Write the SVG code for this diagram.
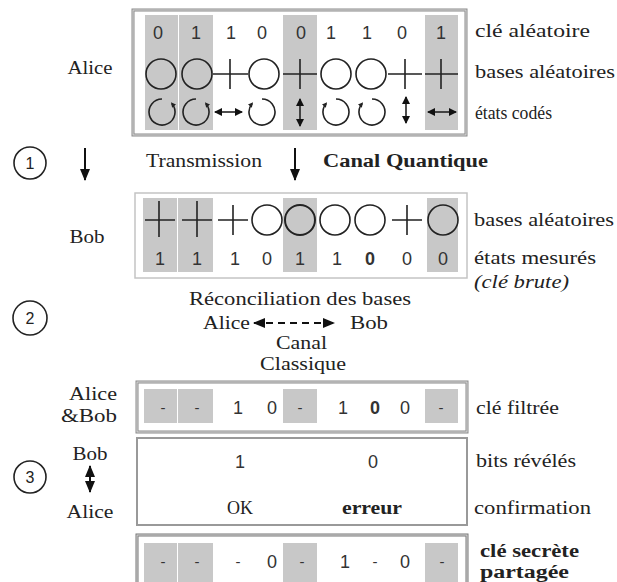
<svg xmlns="http://www.w3.org/2000/svg" width="617" height="582" viewBox="0 0 617 582">
  <style>
    .serif { font-family: "Liberation Serif", "Times New Roman", serif; font-size: 18px; fill: #222; }
    .bold { font-weight: bold; }
    .ital { font-style: italic; }
    .mid { text-anchor: middle; }
    .end { text-anchor: end; }
    .digit { font-family: "Liberation Sans", Arial, sans-serif; font-size: 18px; fill: #333; text-anchor: middle; }
    .dash { font-family: "Liberation Sans", Arial, sans-serif; font-size: 15px; fill: #333; text-anchor: middle; }
    .cell { fill: #c8c8c8; }
    .sym { fill: none; stroke: #222; stroke-width: 1.6; }
    .frame { fill: none; stroke: #8a8a8a; stroke-width: 3; }
    .frame-in { fill: none; stroke: #dcdcdc; stroke-width: 1; }
    .thin { fill: #fff; stroke: #c4c4c4; stroke-width: 1.5; }
    .num { fill: none; stroke: #222; stroke-width: 1.6; }
    .numtxt { font-family: "Liberation Sans", Arial, sans-serif; font-size: 16px; fill: #222; text-anchor: middle; }
    .arrow { stroke: #111; stroke-width: 2; fill: none; }
  </style>
  <defs>
    <marker id="head" viewBox="0 0 12 10" refX="11" refY="5" markerWidth="12" markerHeight="10" markerUnits="userSpaceOnUse" orient="auto-start-reverse">
      <path d="M0,0 L12,5 L0,10 z" fill="#111"/>
    </marker>
    <marker id="small" viewBox="0 0 8 8" refX="7" refY="4" markerWidth="8" markerHeight="8" markerUnits="userSpaceOnUse" orient="auto-start-reverse">
      <path d="M0,0 L8,4 L0,8 z" fill="#111"/>
    </marker>
    <marker id="tip" viewBox="0 0 6 6" refX="4" refY="3" markerWidth="5" markerHeight="5" markerUnits="userSpaceOnUse" orient="auto">
      <path d="M0,0 L6,3 L0,6 z" fill="#222"/>
    </marker>
  </defs>

  <rect width="617" height="582" fill="#fff"/>

  <!-- Alice: random key, random bases, encoded states -->
  <g id="alice-box">
    <rect x="133" y="10" width="333" height="125" fill="#fff"/>
    <rect class="cell" x="145" y="15" width="33" height="115"/>
    <rect class="cell" x="179" y="15" width="34" height="115"/>
    <rect class="cell" x="283" y="15" width="34" height="115"/>
    <rect class="cell" x="425" y="15" width="33" height="115"/>
    <rect class="frame" x="133" y="10" width="333" height="125"/>
    <rect class="frame-in" x="133" y="10" width="333" height="125"/>
    <g>
      <text class="digit" x="158" y="39">0</text>
      <text class="digit" x="196" y="39">1</text>
      <text class="digit" x="231" y="39">1</text>
      <text class="digit" x="262" y="39">0</text>
      <text class="digit" x="301" y="39">0</text>
      <text class="digit" x="331" y="39">1</text>
      <text class="digit" x="367" y="39">1</text>
      <text class="digit" x="402" y="39">0</text>
      <text class="digit" x="441" y="39">1</text>
    </g>
    <g class="sym">
      <circle cx="161" cy="74" r="15"/>
      <circle cx="197" cy="74" r="15"/>
      <path d="M213,74 H248 M230,59 V89"/>
      <circle cx="264" cy="74" r="15"/>
      <path d="M283,74 H317 M300,59 V89"/>
      <circle cx="336" cy="74" r="15"/>
      <circle cx="371" cy="74" r="15"/>
      <path d="M388,74 H422 M405,59 V89"/>
      <path d="M425,74 H458 M441,59 V89"/>
    </g>
    <g class="sym" stroke-width="1.8">
      <path d="M162,99 A13,13 0 1,0 171.96,103.64" marker-end="url(#tip)"/>
      <path d="M196,99 A13,13 0 1,0 205.96,103.64" marker-end="url(#tip)"/>
      <path d="M262,99 A13,13 0 1,1 252.04,103.64" marker-end="url(#tip)"/>
      <path d="M336,99 A13,13 0 1,1 326.04,103.64" marker-end="url(#tip)"/>
      <path d="M372,99 A13,13 0 1,1 362.04,103.64" marker-end="url(#tip)"/>
      <path d="M215,112 H242" marker-start="url(#small)" marker-end="url(#small)"/>
      <path d="M300,99 V126" marker-start="url(#small)" marker-end="url(#small)"/>
      <path d="M406,97 V123" marker-start="url(#small)" marker-end="url(#small)"/>
      <path d="M428,112 H456" marker-start="url(#small)" marker-end="url(#small)"/>
    </g>
  </g>

  <!-- Bob: random bases, measured states -->
  <g id="bob-box">
    <rect class="thin" x="135" y="193" width="332" height="85"/>
    <rect class="cell" x="143" y="198" width="34" height="74"/>
    <rect class="cell" x="178" y="198" width="35" height="74"/>
    <rect class="cell" x="283" y="198" width="34" height="74"/>
    <rect class="cell" x="427" y="198" width="31" height="74"/>
    <g class="sym">
      <path d="M145,220 H175 M159,201 V237"/>
      <path d="M182,220 H212 M197,201 V237"/>
      <path d="M218,220 H248 M233,205 V235"/>
      <circle cx="267" cy="220" r="15"/>
      <circle cx="300" cy="220" r="15" stroke-width="2"/>
      <circle cx="335" cy="220" r="15"/>
      <circle cx="370" cy="220" r="15"/>
      <path d="M392,220 H422 M407,205 V235"/>
      <circle cx="443" cy="220" r="15"/>
    </g>
    <g>
      <text class="digit" x="160" y="265">1</text>
      <text class="digit" x="197" y="265">1</text>
      <text class="digit" x="235" y="265">1</text>
      <text class="digit" x="267" y="265">0</text>
      <text class="digit" x="300" y="265">1</text>
      <text class="digit" x="337" y="265">1</text>
      <text class="digit bold" x="370" y="265">0</text>
      <text class="digit" x="407" y="265">0</text>
      <text class="digit" x="443" y="265">0</text>
    </g>
  </g>

  <!-- Sifted key shared by Alice and Bob -->
  <g id="filtered-key">
    <rect x="137" y="382" width="330" height="50" fill="#fff"/>
    <rect class="cell" x="144" y="389" width="33" height="34"/>
    <rect class="cell" x="178" y="389" width="35" height="34"/>
    <rect class="cell" x="283" y="389" width="34" height="34"/>
    <rect class="cell" x="425" y="389" width="33" height="34"/>
    <rect class="frame" x="137" y="382" width="330" height="50"/>
    <rect class="frame-in" x="137" y="382" width="330" height="50"/>
    <text class="dash" x="163" y="413">-</text>
    <text class="dash" x="197" y="413">-</text>
    <text class="digit" x="238" y="414">1</text>
    <text class="digit" x="272" y="414">0</text>
    <text class="dash" x="300" y="413">-</text>
    <text class="digit" x="343" y="414">1</text>
    <text class="digit bold" x="375" y="414">0</text>
    <text class="digit" x="405" y="414">0</text>
    <text class="dash" x="441" y="413">-</text>
  </g>

  <!-- Disclosed bits and confirmation -->
  <g id="revealed-bits">
    <rect x="137" y="438" width="330" height="87" fill="#fff" stroke="#999" stroke-width="2"/>
    <text class="digit" x="240" y="468">1</text>
    <text class="digit" x="373" y="468">0</text>
    <text class="serif mid" x="240" y="514">OK</text>
    <text class="serif mid bold" x="372" y="514" textLength="60" lengthAdjust="spacingAndGlyphs">erreur</text>
  </g>

  <!-- Final shared secret key -->
  <g id="secret-key">
    <rect x="137" y="535" width="330" height="60" fill="#fff"/>
    <rect class="cell" x="144" y="543" width="33" height="50"/>
    <rect class="cell" x="178" y="543" width="35" height="50"/>
    <rect class="cell" x="283" y="543" width="34" height="50"/>
    <rect class="cell" x="425" y="543" width="33" height="50"/>
    <rect x="137" y="535" width="330" height="60" fill="none" stroke="#777" stroke-width="3"/>
    <rect class="frame-in" x="137" y="535" width="330" height="60"/>
    <text class="dash" x="163" y="567">-</text>
    <text class="dash" x="197" y="567">-</text>
    <text class="dash" x="238" y="567">-</text>
    <text class="digit" x="272" y="568">0</text>
    <text class="dash" x="302" y="567">-</text>
    <text class="digit" x="345" y="568">1</text>
    <text class="dash" x="375" y="567">-</text>
    <text class="digit" x="405" y="568">0</text>
    <text class="dash" x="442" y="567">-</text>
  </g>

  <!-- Step markers -->
  <g id="step1">
    <circle class="num" cx="30" cy="163" r="16"/>
    <text class="numtxt" x="30" y="169">1</text>
  </g>
  <g id="step2">
    <circle class="num" cx="30" cy="318" r="17"/>
    <text class="numtxt" x="30" y="324">2</text>
  </g>
  <g id="step3">
    <circle class="num" cx="30" cy="477" r="16"/>
    <text class="numtxt" x="30" y="483">3</text>
  </g>

  <!-- Connectors -->
  <g id="connectors">
    <path class="arrow" d="M85,148 V180" marker-end="url(#head)"/>
    <path class="arrow" d="M295,148 V180" marker-end="url(#head)"/>
    <path class="arrow" d="M254,323 H334" stroke-dasharray="7,5" marker-start="url(#head)" marker-end="url(#head)"/>
    <path class="arrow" d="M90,466 V492" marker-start="url(#head)" marker-end="url(#head)"/>
  </g>

  <!-- Labels -->
  <g id="labels">
    <text class="serif mid" x="90" y="74" textLength="45" lengthAdjust="spacingAndGlyphs">Alice</text>
    <text class="serif mid" x="87" y="243" textLength="35" lengthAdjust="spacingAndGlyphs">Bob</text>
    <text class="serif end" x="117" y="400" textLength="48" lengthAdjust="spacingAndGlyphs">Alice</text>
    <text class="serif end" x="117" y="422" textLength="56" lengthAdjust="spacingAndGlyphs">&amp;Bob</text>
    <text class="serif mid" x="90" y="460" textLength="35" lengthAdjust="spacingAndGlyphs">Bob</text>
    <text class="serif mid" x="90" y="518" textLength="47" lengthAdjust="spacingAndGlyphs">Alice</text>

    <text class="serif" x="475" y="37" textLength="115" lengthAdjust="spacingAndGlyphs">clé aléatoire</text>
    <text class="serif" x="475" y="78" textLength="140" lengthAdjust="spacingAndGlyphs">bases aléatoires</text>
    <text class="serif" x="475" y="119" textLength="77" lengthAdjust="spacingAndGlyphs">états codés</text>

    <text class="serif" x="146" y="167" textLength="116" lengthAdjust="spacingAndGlyphs">Transmission</text>
    <text class="serif bold" x="323" y="167" textLength="165" lengthAdjust="spacingAndGlyphs">Canal Quantique</text>

    <text class="serif" x="474" y="226" textLength="140" lengthAdjust="spacingAndGlyphs">bases aléatoires</text>
    <text class="serif" x="474" y="264" textLength="122" lengthAdjust="spacingAndGlyphs">états mesurés</text>
    <text class="serif ital" x="474" y="288" textLength="95" lengthAdjust="spacingAndGlyphs">(clé brute)</text>

    <text class="serif" x="189" y="305" textLength="222" lengthAdjust="spacingAndGlyphs">Réconciliation des bases</text>
    <text class="serif" x="203" y="329" textLength="47" lengthAdjust="spacingAndGlyphs">Alice</text>
    <text class="serif" x="350" y="329" textLength="38" lengthAdjust="spacingAndGlyphs">Bob</text>
    <text class="serif" x="276" y="349" textLength="51" lengthAdjust="spacingAndGlyphs">Canal</text>
    <text class="serif" x="260" y="370" textLength="86" lengthAdjust="spacingAndGlyphs">Classique</text>

    <text class="serif" x="476" y="414" textLength="83" lengthAdjust="spacingAndGlyphs">clé filtrée</text>
    <text class="serif" x="476" y="467" textLength="100" lengthAdjust="spacingAndGlyphs">bits révélés</text>
    <text class="serif" x="474" y="514" textLength="117" lengthAdjust="spacingAndGlyphs">confirmation</text>
    <text class="serif bold" x="480" y="557" textLength="99" lengthAdjust="spacingAndGlyphs">clé secrète</text>
    <text class="serif bold" x="480" y="578" textLength="89" lengthAdjust="spacingAndGlyphs">partagée</text>
  </g>
</svg>
